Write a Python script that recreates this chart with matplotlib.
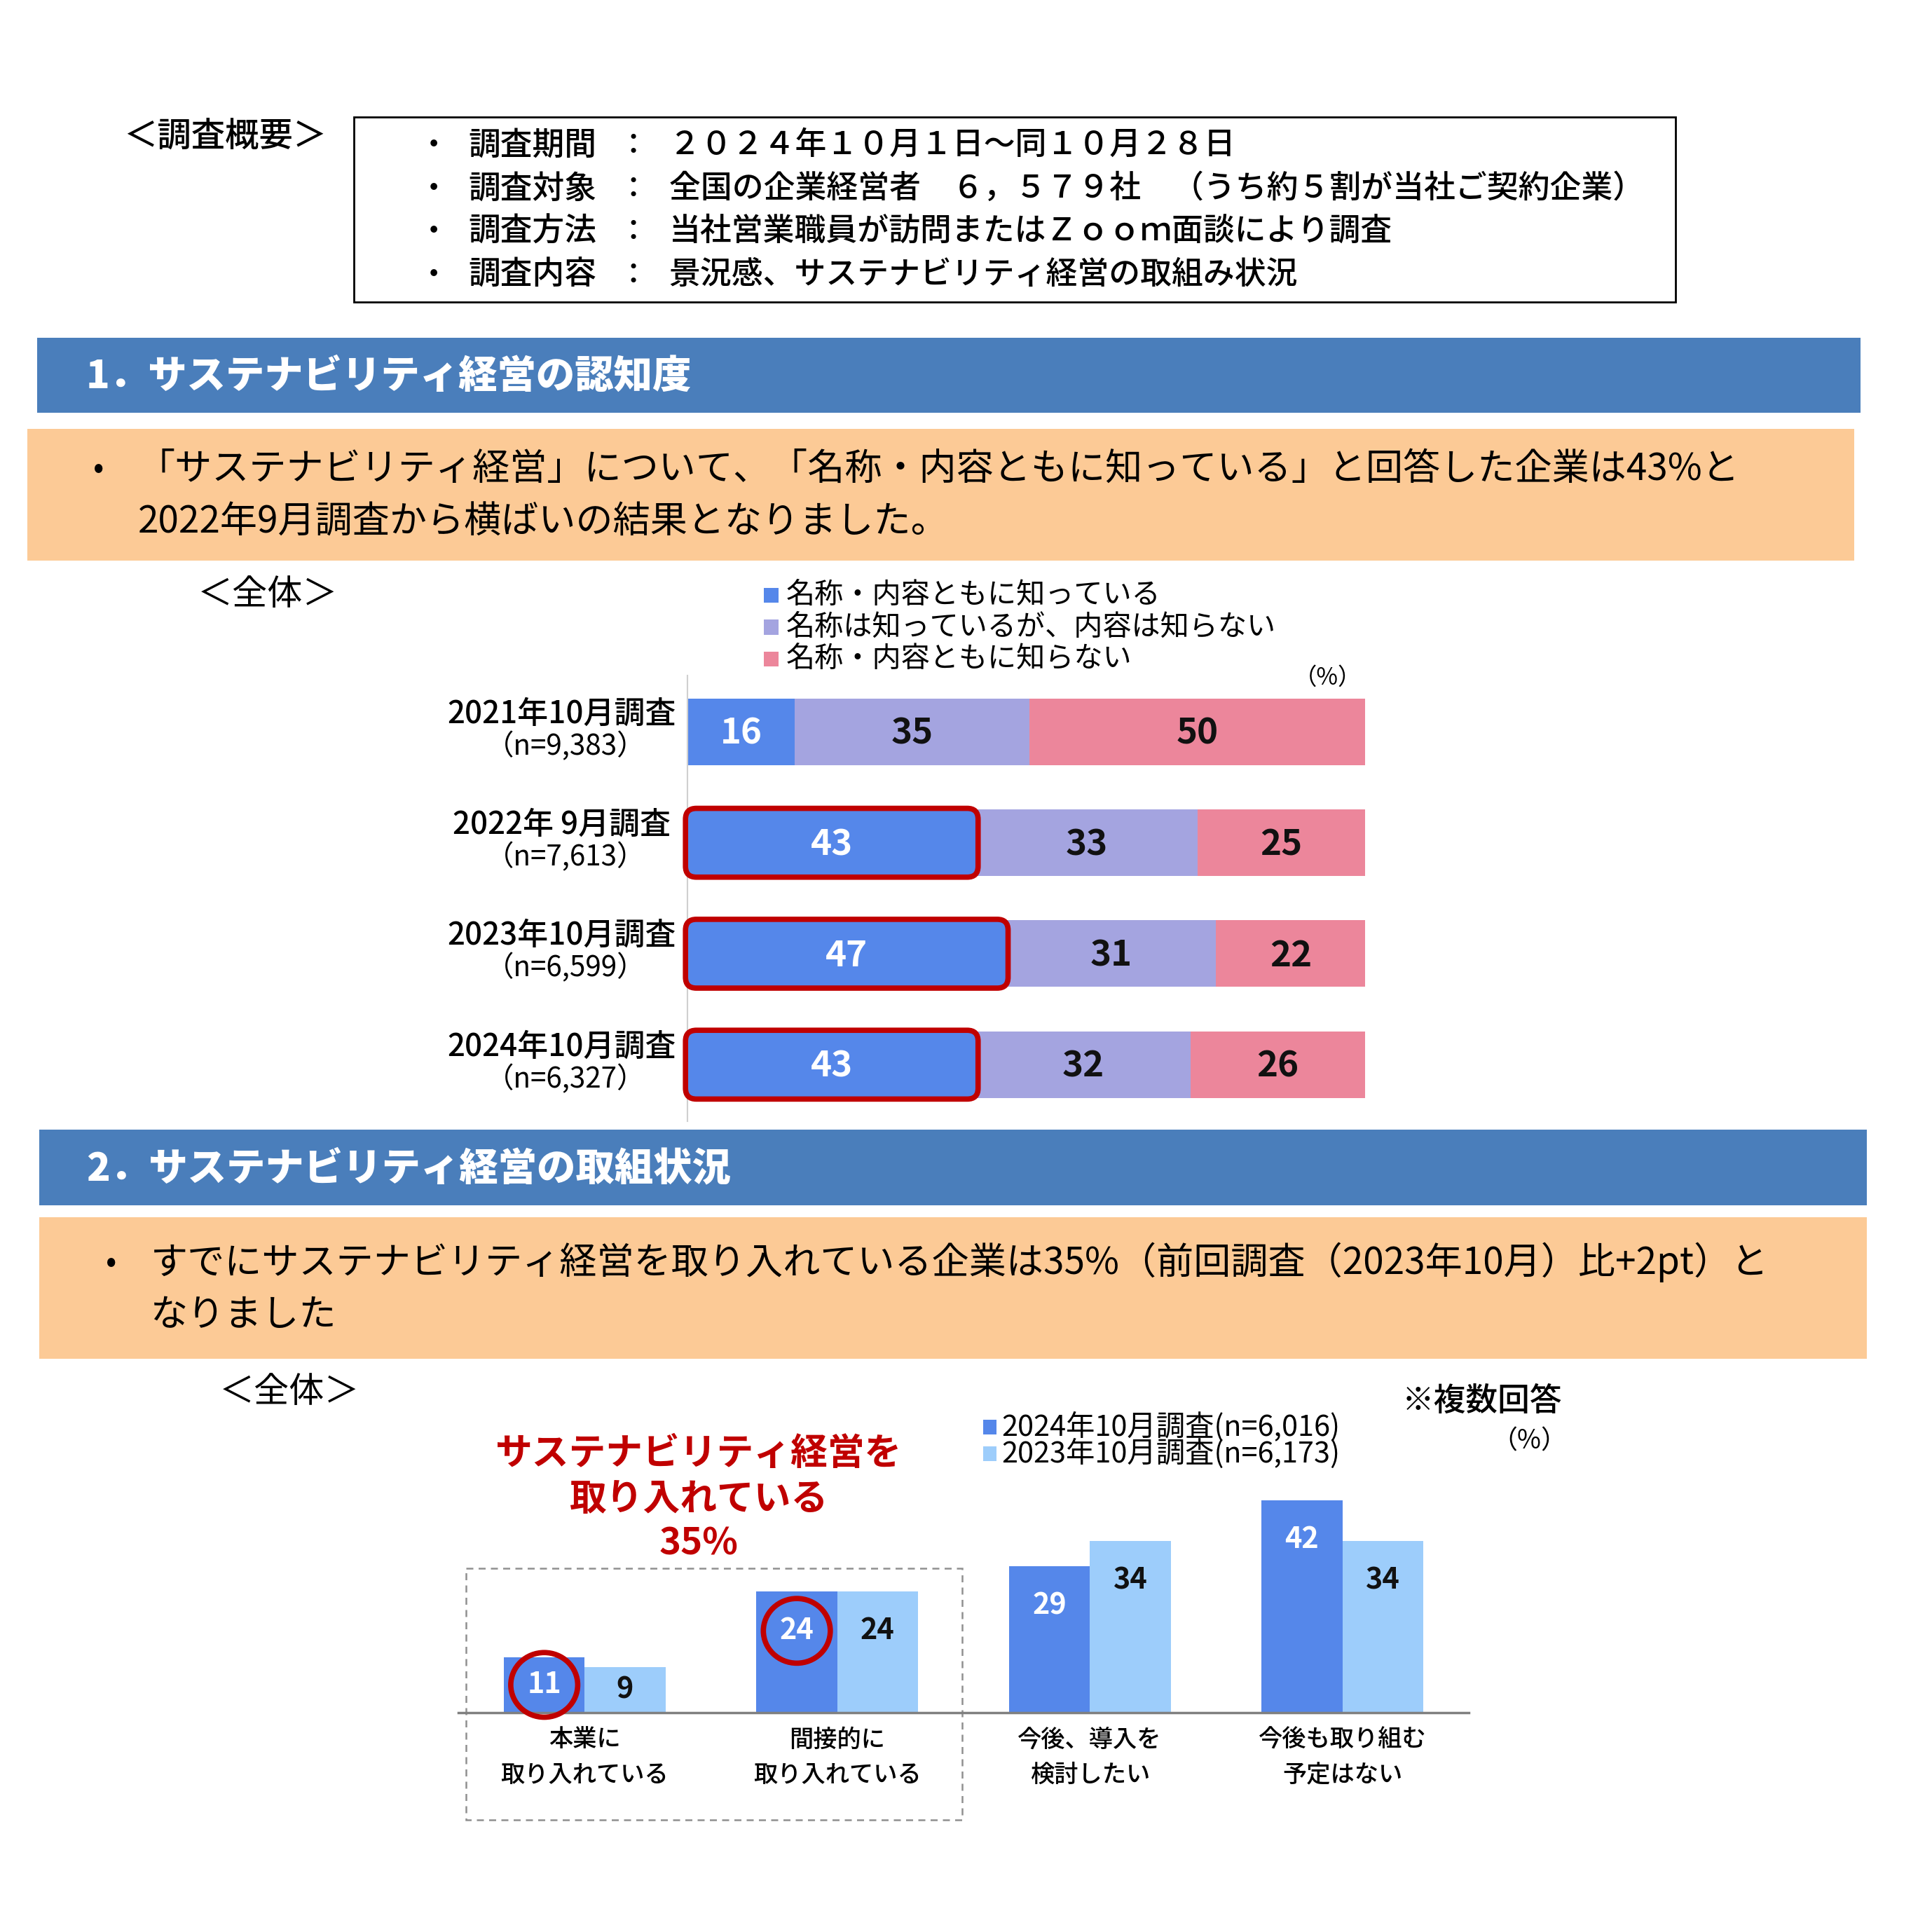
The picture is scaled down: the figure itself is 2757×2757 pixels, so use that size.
import matplotlib
matplotlib.use("Agg")
import matplotlib.pyplot as plt
from matplotlib.patches import Rectangle, FancyBboxPatch, Ellipse

plt.rcParams['font.family'] = ['Noto Sans CJK JP', 'DejaVu Sans']

# ---- data ----
outline_keys = ["調査期間", "調査対象", "調査方法", "調査内容"]
outline_vals = ["２０２４年１０月１日～同１０月２８日",
                "全国の企業経営者　６，５７９社　（うち約５割が当社ご契約企業）",
                "当社営業職員が訪問またはＺｏｏｍ面談により調査",
                "景況感、サステナビリティ経営の取組み状況"]

sec1_title = "1．サステナビリティ経営の認知度"
sec1_text = ["「サステナビリティ経営」について、「名称・内容ともに知っている」と回答した企業は43%と",
             "2022年9月調査から横ばいの結果となりました。"]
sec2_title = "2．サステナビリティ経営の取組状況"
sec2_text = ["すでにサステナビリティ経営を取り入れている企業は35%（前回調査（2023年10月）比+2pt）と",
             "なりました"]

surveys = ["2021年10月調査", "2022年 9月調査", "2023年10月調査", "2024年10月調査"]
samples = ["（n=9,383）", "（n=7,613）", "（n=6,599）", "（n=6,327）"]
aware_names = ["名称・内容ともに知っている", "名称は知っているが、内容は知らない", "名称・内容ともに知らない"]
know_both = [16, 43, 47, 43]
name_only = [35, 33, 31, 32]
neither = [50, 25, 22, 26]

cat_line1 = ["本業に", "間接的に", "今後、導入を", "今後も取り組む"]
cat_line2 = ["取り入れている", "取り入れている", "検討したい", "予定はない"]
series2 = ["2024年10月調査(n=6,016)", "2023年10月調査(n=6,173)"]
y2024 = [11, 24, 29, 42]
y2023 = [9, 24, 34, 34]
circled = [0, 1]

c_blue, c_lav, c_pink = "#5587EA", "#A4A4E0", "#EC869B"
c_light = "#9DCDFB"
c_head, c_peach, c_red = "#4A7EBB", "#FCCA96", "#C00000"

S = 1568.0
F = 2757 / S * 72 / 100  # shrunk px -> pt


def rect(x0, y0, x1, y1):
    return [x0 / S, 1 - y1 / S, (x1 - x0) / S, (y1 - y0) / S]


fig = plt.figure(figsize=(27.57, 27.57), dpi=100)
ax0 = fig.add_axes([0, 0, 1, 1])
ax0.set_xlim(0, S)
ax0.set_ylim(S, 0)
ax0.axis("off")

# ---- outline box ----
ax0.text(100, 111, "＜調査概要＞", fontsize=27.5 * F, va="center", ha="left", weight="medium")
ax0.add_patch(Rectangle((287, 95), 1073, 150, fill=False, ec="black", lw=2))
for i, (k, v) in enumerate(zip(outline_keys, outline_vals)):
    yy = 118 + 35 * i
    ax0.text(352, yy, "・", fontsize=24 * F, va="center", ha="center", weight="medium")
    ax0.text(380, yy, k, fontsize=26 * F, va="center", weight="medium")
    ax0.text(514, yy, "：", fontsize=24 * F, va="center", ha="center", weight="medium")
    ax0.text(543, yy, v, fontsize=25.5 * F, va="center", weight="medium")

# ---- section headers and summary boxes ----
for (x0, y0, x1, y1), title in [((30, 274, 1510, 335), sec1_title),
                                ((32, 917, 1515, 978), sec2_title)]:
    ax0.add_patch(Rectangle((x0, y0), x1 - x0, y1 - y0, color=c_head, lw=0))
    ax0.text(70, (y0 + y1) / 2 + 1, title, color="white", fontsize=31.5 * F,
             weight="black", va="center")

for (x0, y0, x1, y1), lines, bx, tx in [((22, 348, 1505, 455), sec1_text, 80, 112),
                                        ((32, 988, 1515, 1103), sec2_text, 90, 122)]:
    ax0.add_patch(Rectangle((x0, y0), x1 - x0, y1 - y0, color=c_peach, lw=0))
    ym = (y0 + y1) / 2
    ax0.text(bx, ym - 21, "•", fontsize=26 * F, va="center", ha="center")
    ax0.text(tx, ym - 21, lines[0], fontsize=30.2 * F, va="center")
    ax0.text(tx, ym + 22, lines[1], fontsize=30.2 * F, va="center")

ax0.text(160, 483, "＜全体＞", fontsize=28.5 * F, va="center")
ax0.text(178, 1130, "＜全体＞", fontsize=28.5 * F, va="center")

# ---- chart 1 : stacked horizontal bars ----
for i, (name, col) in enumerate(zip(aware_names, [c_blue, c_lav, c_pink])):
    yy = 483 + 26 * i
    ax0.add_patch(Rectangle((620, yy - 6), 12, 12, color=col, lw=0))
    ax0.text(638, yy, name, fontsize=23.4 * F, va="center")
ax0.text(1105, 550, "（%）", fontsize=19 * F, va="center", ha="right")

ax1 = fig.add_axes(rect(558, 548, 1108, 910))
ax1.set_facecolor("none")
ypos = list(range(len(surveys)))
left = [0.0] * len(surveys)
for vals, col, tcol in [(know_both, c_blue, "white"), (name_only, c_lav, "#111111"),
                        (neither, c_pink, "#111111")]:
    widths = [v * 100.0 / (a + b + c) for v, a, b, c in zip(vals, know_both, name_only, neither)]
    ax1.barh(ypos, widths, left=left, height=0.6, color=col, lw=0)
    for y, l, w, v in zip(ypos, left, widths, vals):
        ax1.text(l + w / 2, y + 0.02, str(v), color=tcol, fontsize=29 * F,
                 weight="bold", ha="center", va="center")
    left = [l + w for l, w in zip(left, widths)]
ax1.set_xlim(0, 100)
ax1.set_ylim(3.51, -0.51)
ax1.set_xticks([])
ax1.set_yticks([])
for s in ["top", "right", "bottom"]:
    ax1.spines[s].set_visible(False)
ax1.spines["left"].set_color("#D0D0D0")
ax1.spines["left"].set_linewidth(1.5)

for y, s_, n in zip(ypos, surveys, samples):
    ax1.text(-18.6, y - 0.16, s_, fontsize=25 * F, ha="center", va="center", weight="medium")
    ax1.text(-18.0, y + 0.13, n, fontsize=23 * F, ha="center", va="center")

asp = (1 / 90.0) / (100 / 550.0)
for y in ypos[1:]:
    w = know_both[y] * 100.0 / (know_both[y] + name_only[y] + neither[y])
    ax1.add_patch(FancyBboxPatch((-0.3, y - 0.31), w + 0.6, 0.62,
                                 boxstyle="round,pad=0,rounding_size=1.6",
                                 mutation_aspect=asp, fill=False, ec=c_red,
                                 lw=5.5, clip_on=False, zorder=5))

# ---- chart 2 : grouped vertical bars ----
ax0.text(567, 1180, "サステナビリティ経営を", color=c_red, fontsize=30 * F,
         weight="bold", ha="center", va="center")
ax0.text(567, 1217, "取り入れている", color=c_red, fontsize=30 * F,
         weight="bold", ha="center", va="center")
ax0.text(567, 1253, "35%", color=c_red, fontsize=30 * F,
         weight="bold", ha="center", va="center")
ax0.add_patch(Rectangle((378, 1273), 403, 204, fill=False, ec="#909090",
                        lw=1.8, ls=(0, (4, 3))))

for i, (name, col) in enumerate(zip(series2, [c_blue, c_light])):
    yy = 1158 + 22 * i
    ax0.add_patch(Rectangle((798, yy - 6), 11, 12, color=col, lw=0))
    ax0.text(813, yy, name, fontsize=23.5 * F, va="center")
ax0.text(1268, 1137, "※複数回答", fontsize=26 * F, va="center", ha="right", weight="medium")
ax0.text(1272, 1170, "（%）", fontsize=21 * F, va="center", ha="right")

ax2 = fig.add_axes(rect(372, 1185, 1192, 1390))
ax2.set_facecolor("none")
xs = list(range(len(y2024)))
bw = 0.32
ax2.bar([x - bw / 2 for x in xs], y2024, width=bw, color=c_blue, lw=0)
ax2.bar([x + bw / 2 for x in xs], y2023, width=bw, color=c_light, lw=0)
for x, v in zip(xs, y2024):
    ax2.text(x - bw / 2, max(v / 2, v - 7.8), str(v), color="white", fontsize=23.5 * F,
             weight="bold", ha="center", va="center")
for x, v in zip(xs, y2023):
    ax2.text(x + bw / 2, max(v / 2, v - 7.8), str(v), color="#111111", fontsize=23.5 * F,
             weight="bold", ha="center", va="center")
for x in circled:
    v = y2024[x]
    ax2.add_patch(Ellipse((x - bw / 2, max(v / 2, v - 7.8)), 0.265, 12.8, fill=False,
                          ec=c_red, lw=5.5, clip_on=False, zorder=5))
for x, a, b in zip(xs, cat_line1, cat_line2):
    ax2.text(x, -5.4, a, fontsize=19.5 * F, ha="center", va="center", weight="medium")
    ax2.text(x, -12.4, b, fontsize=19.5 * F, ha="center", va="center", weight="medium")
ax2.set_xlim(-0.5, 3.5)
ax2.set_ylim(0, 50)
ax2.set_xticks([])
ax2.set_yticks([])
for s in ["top", "right", "left"]:
    ax2.spines[s].set_visible(False)
ax2.spines["bottom"].set_color("#808080")
ax2.spines["bottom"].set_linewidth(2.5)

fig.savefig("out.png", dpi=100, facecolor="white")
